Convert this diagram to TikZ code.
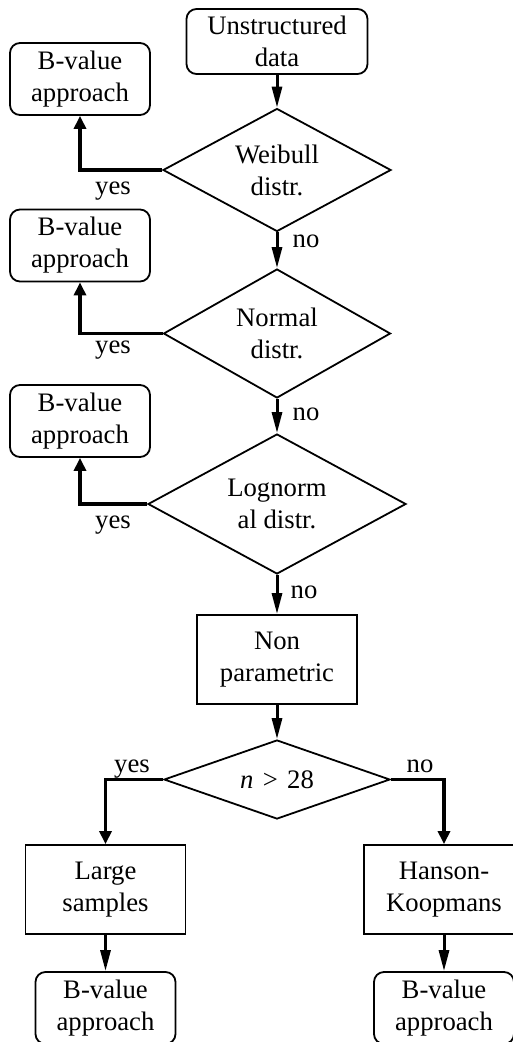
\documentclass[tikz,border=0pt]{standalone}
\usepackage{fontspec}
\setmainfont{Liberation Serif}
\usetikzlibrary{shapes.geometric,arrows.meta}
\begin{document}
\begin{tikzpicture}[x=1pt,y=-1pt,
  every node/.style={font=\fontsize{26.7}{32}\selectfont, inner sep=0pt, align=center},
  term/.style={draw, line width=1.8pt, rounded corners=10pt, minimum width=140pt, minimum height=72pt},
  proc/.style={draw, line width=1.8pt, minimum width=160pt, minimum height=89pt},
  dec/.style={draw, diamond, line width=1.8pt, aspect=2},
  mainarrow/.style={line width=3pt, -{Triangle[length=21pt,width=10pt]}},
  brancharrow/.style={line width=3.5pt, -{Triangle[length=13pt,width=12pt]}},
  lbl/.style={anchor=base}]
\useasboundingbox (0,0) rectangle (513,1042);
\clip (0,0) rectangle (513,1042);

\node[term, minimum width=181pt, minimum height=65pt] (start) at (277,41.5) {Unstructured\\data};
\node[term] (bv1) at (80,79) {B-value\\approach};
\node[dec, minimum width=228pt, minimum height=123pt] (weib) at (277,170) {Weibull\\distr.};
\node[term] (bv2) at (80,245.5) {B-value\\approach};
\node[dec, minimum width=227pt, minimum height=129pt] (norm) at (277,333.5) {Normal\\distr.};
\node[term] (bv3) at (80,421) {B-value\\approach};
\node[dec, minimum width=258pt, minimum height=140pt] (logn) at (277,504) {Lognorm\\al distr.};
\node[proc] (nonp) at (277,659.5) {Non\\parametric};
\node[dec, aspect=3, minimum width=226pt, minimum height=79pt] (ncheck) at (277,779.5) {\textit{n}\hspace{0.35em}>\hspace{0.35em}28};
\node[proc] (large) at (105.5,889.5) {Large\\samples};
\node[proc] (hk) at (444,889.5) {Hanson-\\Koopmans};
\node[term] (bv4) at (105.5,1008) {B-value\\approach};
\node[term] (bv5) at (444,1008) {B-value\\approach};

\draw[mainarrow] (start.south) -- (weib.north);
\draw[mainarrow] (weib.south) -- (norm.north);
\draw[mainarrow] (norm.south) -- (logn.north);
\draw[mainarrow] (logn.south) -- (nonp.north);
\draw[mainarrow] (nonp.south) -- (ncheck.north);
\draw[brancharrow] (weib.west) -| (bv1.south);
\draw[brancharrow] (norm.west) -| (bv2.south);
\draw[brancharrow] (logn.west) -| (bv3.south);
\draw[brancharrow] (ncheck.west) -| (large.north);
\draw[brancharrow] (ncheck.east) -| (hk.north);
\draw[mainarrow] (large.south) -- (bv4.north);
\draw[mainarrow] (hk.south) -- (bv5.north);

\node[lbl] (yes1) at (113,194) {yes};
\node[lbl] (no1) at (306,247) {no};
\node[lbl] (yes2) at (113,353) {yes};
\node[lbl] (no2) at (306,420) {no};
\node[lbl] (yes3) at (113,528) {yes};
\node[lbl] (no3) at (304,598) {no};
\node[lbl] (yes4) at (132,772) {yes};
\node[lbl] (no4) at (420,772) {no};
\end{tikzpicture}
\end{document}
